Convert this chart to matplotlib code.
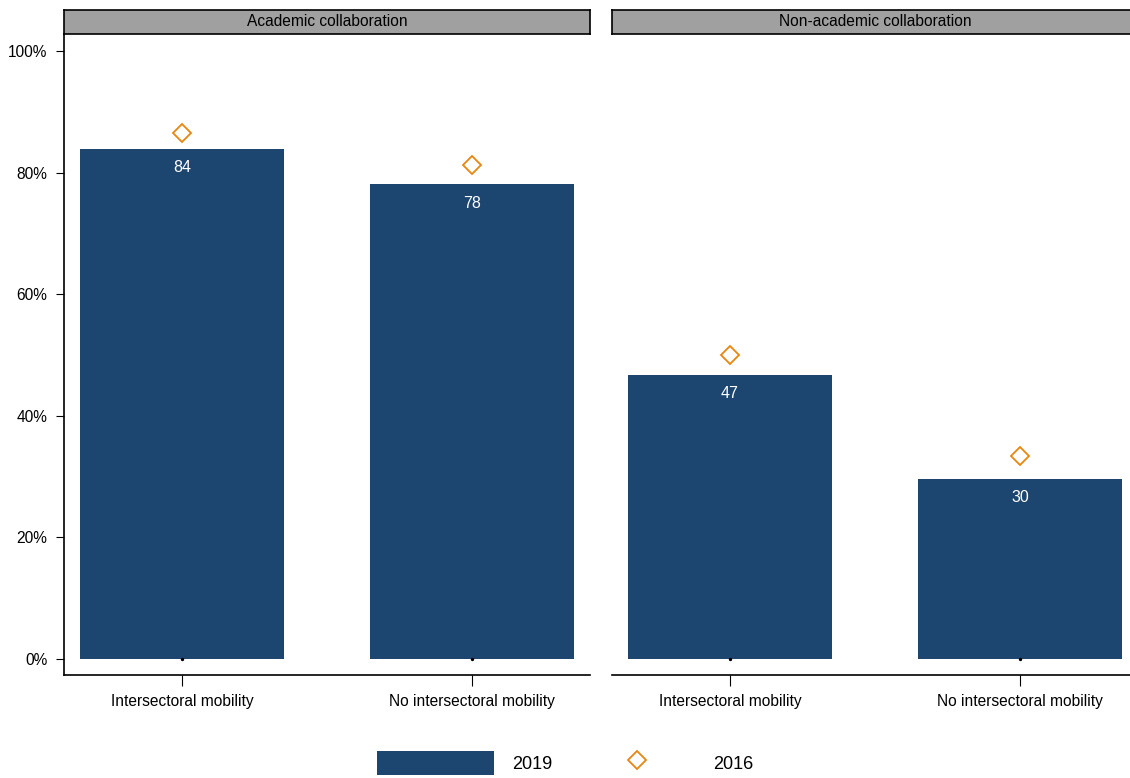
import matplotlib
matplotlib.use("Agg")
import matplotlib.pyplot as plt
from matplotlib.lines import Line2D
from matplotlib.patches import Patch

plt.rcParams['font.family'] = ['Liberation Sans', 'DejaVu Sans']

panels = ["Academic collaboration", "Non-academic collaboration"]
categories = ["Intersectoral mobility", "No intersectoral mobility"]
values_2019 = [[83.9, 78.1], [46.7, 29.6]]
values_2016 = [[86.5, 81.2], [50.0, 33.4]]
bar_labels = [["84", "78"], ["47", "30"]]
yticks = [0, 20, 40, 60, 80, 100]
ytick_labels = ["0%", "20%", "40%", "60%", "80%", "100%"]

BAR = '#1c4670'
ORANGE = '#e8850c'

W, H = 1130, 778
fig = plt.figure(figsize=(W / 100, H / 100), dpi=100)

def fx(px):
    return px / W

def fy(py):
    return 1 - py / H

ax_left_px = [64, 612]
ax_w_px = 526
ax_top_px, ax_bot_px = 34, 675
strip_top_px = 10
FS = 11.2

for i, title in enumerate(panels):
    l = ax_left_px[i]
    ax = fig.add_axes([fx(l), fy(ax_bot_px), fx(ax_w_px), (ax_bot_px - ax_top_px) / H])
    x = list(range(len(categories)))
    ax.bar(x, values_2019[i], width=0.703, color=BAR, zorder=2)
    ax.plot(x, values_2016[i], linestyle='none', marker='D', markersize=8.8,
            markerfacecolor='none', markeredgecolor=ORANGE, markeredgewidth=1.3, zorder=3)
    ax.plot(x, [0] * len(x), linestyle='none', marker='o', markersize=1.4,
            color='black', zorder=3)
    for xi, v, lab in zip(x, values_2019[i], bar_labels[i]):
        ax.text(xi, v - 3.1, lab, color='white', ha='center', va='center', fontsize=11.5)
    ax.set_xlim(-0.407, 1.407)
    ax.set_ylim(-2.63, 102.8)
    ax.set_xticks(x)
    ax.set_xticklabels(categories, fontsize=FS)
    ax.tick_params(axis='x', length=8, width=0.8, pad=6)
    for s in ['top', 'right']:
        ax.spines[s].set_visible(False)
    ax.spines['bottom'].set_linewidth(1.2)
    if i == 0:
        ax.set_yticks(yticks)
        ax.set_yticklabels(ytick_labels, fontsize=FS)
        ax.tick_params(axis='y', length=6, width=0.8, pad=6)
        ax.spines['left'].set_linewidth(1.2)
    else:
        ax.spines['left'].set_visible(False)
        ax.set_yticks([])

    sw = ax_w_px if i == 0 else W - l + 10
    sax = fig.add_axes([fx(l), fy(ax_top_px), fx(sw), (ax_top_px - strip_top_px) / H])
    sax.set_facecolor('#a0a0a0')
    sax.set_xticks([])
    sax.set_yticks([])
    for s in sax.spines.values():
        s.set_linewidth(1.2)
        s.set_color('black')
    cx = 0.5 if i == 0 else (fx(ax_w_px) / 2) / fx(sw)
    sax.text(cx, 0.5, title, ha='center', va='center', fontsize=FS, transform=sax.transAxes)

handles = [Patch(facecolor=BAR, edgecolor='none'),
           Line2D([], [], linestyle='none', marker='D', markersize=8.8,
                  markerfacecolor='none', markeredgecolor=ORANGE, markeredgewidth=1.3)]
fig.legend(handles, ["2019", "2016"], loc='center', bbox_to_anchor=(0.5004, fy(763)),
           ncol=2, frameon=False, fontsize=13, handlelength=6.45, handleheight=1.7,
           handletextpad=1.0, columnspacing=1.5)

fig.savefig("out.png", dpi=100)
